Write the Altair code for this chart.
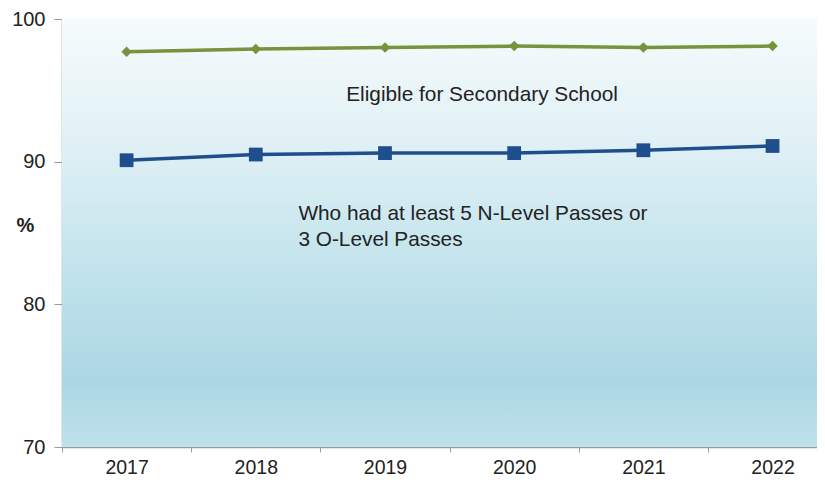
import altair as alt
import pandas as pd

years = [2017, 2018, 2019, 2020, 2021, 2022]
eligible = [97.7, 97.9, 98.0, 98.1, 98.0, 98.1]
passes = [90.1, 90.5, 90.6, 90.6, 90.8, 91.1]

ann_text = [["Eligible for Secondary School"], ["Who had at least 5 N-Level Passes or", "3 O-Level Passes"]]
ann_x = [2018.70, 2018.33]
ann_y = [94.7, 86.3]

df1 = pd.DataFrame({"year": years, "value": eligible})
df2 = pd.DataFrame({"year": years, "value": passes})
dfa = pd.DataFrame({"x": ann_x, "y": ann_y, "t": ann_text})

xscale = alt.Scale(domain=[2016.5, 2022.344], nice=False, zero=False)
yscale = alt.Scale(domain=[70, 100], nice=False, zero=False)

xaxis = alt.Axis(values=[2016.5, 2017.5, 2018.5, 2019.5, 2020.5, 2021.5],
                 labelExpr="toString(datum.value + 0.5)", labelOffset=64.6,
                 labelFlush=False, labelOverlap=False, grid=False, title=None,
                 tickSize=5, tickColor="#999999", domainColor="#999999", domainWidth=1.5,
                 labelFontSize=19.5, labelColor="#222222", labelPadding=6,
                 labelFont="Liberation Sans")
yaxis = alt.Axis(values=[70, 80, 90, 100], grid=False, title="%",
                 titleAngle=0, titleFontSize=20, titleFontWeight="bold", titleColor="#222222",
                 titleX=-37, titleY=216, titleFont="Liberation Sans",
                 tickSize=8, tickColor="#999999", domainColor="#999999", domainWidth=1.5,
                 labelFontSize=20, labelColor="#222222", labelPadding=9,
                 labelFont="Liberation Sans")

base_x = alt.X("year:Q", scale=xscale, axis=xaxis)
base_y = alt.Y("value:Q", scale=yscale, axis=yaxis)

gradient = alt.LinearGradient(
    gradient="linear", x1=0, y1=0, x2=0, y2=1,
    stops=[
        alt.GradientStop(offset=0, color="#f6fbfc"),
        alt.GradientStop(offset=0.3, color="#dff0f5"),
        alt.GradientStop(offset=0.6, color="#c0e2eb"),
        alt.GradientStop(offset=0.85, color="#abd7e4"),
        alt.GradientStop(offset=1, color="#bfe2eb"),
    ],
)

bg = alt.Chart(pd.DataFrame({"a": [0]})).mark_rect(color=gradient).encode(
    x=alt.value(0), x2=alt.value("width"), y=alt.value(0), y2=alt.value("height")
)

green = alt.Chart(df1).mark_line(
    color="#77933c", strokeWidth=3.5,
    point=alt.OverlayMarkDef(shape="diamond", size=110, color="#77933c", filled=True, opacity=1)
).encode(x=base_x, y=base_y)

blue = alt.Chart(df2).mark_line(
    color="#1f4e8c", strokeWidth=3.5,
    point=alt.OverlayMarkDef(shape="square", size=190, color="#1f4e8c", filled=True, opacity=1)
).encode(x=base_x, y=base_y)

ann = alt.Chart(dfa).mark_text(
    align="left", baseline="middle", fontSize=20.8, font="Liberation Sans",
    color="#222222", lineHeight=26
).encode(x=alt.X("x:Q", scale=xscale), y=alt.Y("y:Q", scale=yscale), text="t")

chart = alt.layer(bg, green, blue, ann).properties(
    width=755, height=428,
    autosize=alt.AutoSizeParams(type="none"),
    padding={"left": 54, "top": 11, "right": 0, "bottom": 32},
    background="white",
).configure_view(stroke=None)

chart.save("out.html", embed_options={"renderer": "svg", "actions": False})
